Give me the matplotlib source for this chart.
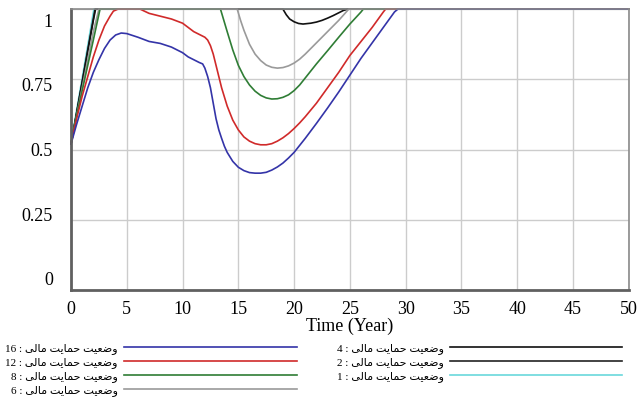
import numpy as np
import matplotlib
matplotlib.use("Agg")
from matplotlib import pyplot as plt
from matplotlib.transforms import ScaledTranslation

# series: (time, value) per scenario
t16 = [0, 0.5, 1, 1.5, 2, 2.5, 3, 3.5, 4, 4.5, 5, 6, 7, 8, 9, 10, 10.5, 11, 11.5, 11.8,
       12, 12.25, 12.5, 12.75, 13, 13.25, 13.5, 13.75, 14, 14.5, 15, 15.5, 16, 16.5, 17,
       17.5, 18, 18.5, 19, 19.5, 20, 20.5, 21, 22, 23, 24, 25, 26, 27, 28, 29, 29.3, 50]
v16 = [0.52, 0.59, 0.655, 0.72, 0.775, 0.82, 0.86, 0.89, 0.908, 0.915, 0.913, 0.9, 0.885,
       0.878, 0.865, 0.845, 0.83, 0.82, 0.81, 0.805, 0.79, 0.76, 0.72, 0.665, 0.61, 0.57,
       0.54, 0.512, 0.49, 0.458, 0.437, 0.425, 0.418, 0.416, 0.416, 0.419, 0.427, 0.438,
       0.452, 0.47, 0.49, 0.515, 0.54, 0.593, 0.648, 0.705, 0.765, 0.825, 0.88, 0.935,
       0.99, 1.0, 1.0]

t12 = [0, 0.5, 1, 1.5, 2, 2.5, 3, 3.5, 3.8, 4.2, 6.2, 7, 8, 9, 10, 10.5, 11, 11.5, 12,
       12.25, 12.5, 12.75, 13, 13.5, 14, 14.5, 15, 15.5, 16, 16.5, 17, 17.5, 18, 18.5,
       19, 19.5, 20, 20.5, 21, 22, 23, 24, 25, 26, 27, 28, 28.2, 50]
v12 = [0.52, 0.61, 0.69, 0.76, 0.83, 0.89, 0.94, 0.975, 0.993, 1.0, 1.0, 0.985, 0.975,
       0.965, 0.95, 0.935, 0.92, 0.91, 0.9, 0.89, 0.87, 0.84, 0.8, 0.72, 0.655, 0.605,
       0.57, 0.545, 0.53, 0.521, 0.517, 0.517, 0.521, 0.53, 0.542, 0.557, 0.575, 0.595,
       0.617, 0.665, 0.72, 0.775, 0.835, 0.885, 0.935, 0.99, 1.0, 1.0]

t8 = [0, 0.5, 1, 1.5, 2, 2.6, 13.4, 13.7, 14, 14.5, 15, 15.5, 16, 16.5, 17, 17.5, 18,
      18.5, 19, 19.5, 20, 20.5, 21, 22, 23, 24, 25, 26, 26.2, 50]
v8 = [0.52, 0.62, 0.71, 0.8, 0.89, 1.0, 1.0, 0.96, 0.92, 0.855, 0.8, 0.76, 0.73, 0.708,
      0.693, 0.684, 0.68, 0.681, 0.686, 0.695, 0.71, 0.73, 0.755, 0.805, 0.852, 0.9,
      0.947, 0.99, 1.0, 1.0]

t6 = [0, 0.5, 1, 1.5, 2, 2.5, 14.9, 15.2, 15.5, 16, 16.5, 17, 17.5, 18, 18.5, 19, 19.5,
      20, 20.5, 21, 22, 23, 24, 24.9, 50]
v6 = [0.52, 0.62, 0.72, 0.82, 0.92, 1.0, 1.0, 0.96, 0.925, 0.875, 0.84, 0.817, 0.801,
      0.793, 0.79, 0.792, 0.798, 0.808, 0.822, 0.84, 0.88, 0.92, 0.96, 1.0, 1.0]

t4 = [0, 0.5, 1, 1.5, 2, 2.2, 19, 19.3, 19.6, 20, 20.4, 20.8, 21.5, 22, 22.5, 23, 23.5,
      24, 24.4, 24.8, 50]
v4 = [0.52, 0.63, 0.74, 0.85, 0.96, 1.0, 1.0, 0.98, 0.965, 0.955, 0.949, 0.947, 0.95,
      0.954, 0.96, 0.968, 0.977, 0.987, 0.995, 1.0, 1.0]

t2 = [0, 0.5, 1, 1.5, 2, 2.15, 50]
v2 = [0.52, 0.63, 0.74, 0.855, 0.965, 1.0, 1.0]

t1 = [0, 0.5, 1, 1.5, 2.05, 50]
v1 = [0.52, 0.64, 0.755, 0.87, 1.0, 1.0]

scenarios = [16, 12, 8, 6, 4, 2, 1]
times = [t16, t12, t8, t6, t4, t2, t1]
values = [v16, v12, v8, v6, v4, v2, v1]
colors = ["#3434a8", "#d02a2a", "#2f7d35", "#9a9a9a", "#111111", "#222222", "#6ad8dc"]

x_ticks = [0, 5, 10, 15, 20, 25, 30, 35, 40, 45, 50]
y_ticks = [0, 0.25, 0.5, 0.75, 1]
y_labels = ["0", "0.25", "0.5", "0.75", "1"]

label_words = ["وضعیت", "حمایت", "مالی"]

# contextual forms: isolated, final, initial, medial
FORMS = {
    "و": ("\uFEED", "\uFEEE", None, None),
    "ا": ("\uFE8D", "\uFE8E", None, None),
    "ض": ("\uFEBD", "\uFEBE", "\uFEBF", "\uFEC0"),
    "ع": ("\uFEC9", "\uFECA", "\uFECB", "\uFECC"),
    "ت": ("\uFE95", "\uFE96", "\uFE97", "\uFE98"),
    "ح": ("\uFEA1", "\uFEA2", "\uFEA3", "\uFEA4"),
    "م": ("\uFEE1", "\uFEE2", "\uFEE3", "\uFEE4"),
    "ل": ("\uFEDD", "\uFEDE", "\uFEDF", "\uFEE0"),
    "ی": ("\uFBFC", "\uFBFD", "\uFBFE", "\uFBFF"),
}


def shape(word):
    # matplotlib has no arabic shaping, so pick forms and lay out right to left
    out = []
    for i, ch in enumerate(word):
        iso, fin, ini, med = FORMS[ch]
        joins_prev = i > 0 and FORMS[word[i - 1]][2] is not None
        joins_next = ini is not None and i < len(word) - 1
        if joins_prev and joins_next:
            out.append(med)
        elif joins_prev:
            out.append(fin)
        elif joins_next:
            out.append(ini)
        else:
            out.append(iso)
    return "".join(reversed(out))


def label(n):
    return f"{n} : " + " ".join(shape(w) for w in reversed(label_words))


serif = ["Liberation Serif", "DejaVu Sans"]
plt.rcParams["font.family"] = serif

fig = plt.figure(figsize=(6.37, 3.98), dpi=100)
ax = fig.add_axes([0.1115, 0.2714, 0.8755, 0.7056])

# smallest scenario drawn first, so 16 ends up on top
for n, t, v, c in reversed(list(zip(scenarios, times, values, colors))):
    ax.plot(t, v, color=c, lw=1.2, label=label(n), clip_on=False)

ax.set_xlim(0, 50)
ax.set_ylim(0, 1)
ax.set_xticks(x_ticks)
ax.set_yticks(y_ticks)
ax.set_yticklabels(y_labels)
ax.grid(True, color="#cccccc", lw=1)
ax.set_axisbelow(True)
ax.tick_params(axis="both", length=0, labelsize=13)
ax.tick_params(axis="y", pad=13)
ax.tick_params(axis="x", pad=8)

# vensim squeezes the y labels a little towards the middle
for lab, v in zip(ax.get_yticklabels(), y_ticks):
    lab.set_transform(lab.get_transform() +
                      ScaledTranslation(0, (v - 0.5) * -0.22, fig.dpi_scale_trans))

for side in ["left", "bottom"]:
    ax.spines[side].set_color("#606060")
    ax.spines[side].set_linewidth(2)
for side in ["right", "top"]:
    ax.spines[side].set_color("#8a8a8a")
    ax.spines[side].set_linewidth(1.2)

ax.set_xlabel("Time (Year)", fontsize=13, labelpad=0)

handles, labels = ax.get_legend_handles_labels()
fig.legend(handles[::-1], labels[::-1], loc="upper left", bbox_to_anchor=(0.008, 0.138),
           ncol=2, frameon=False, markerfirst=False, handlelength=15.5,
           handletextpad=0.6, columnspacing=3.6, labelspacing=0.28,
           borderpad=0, borderaxespad=0, prop={"family": serif, "size": 8})

fig.savefig("out.png", dpi=100)
